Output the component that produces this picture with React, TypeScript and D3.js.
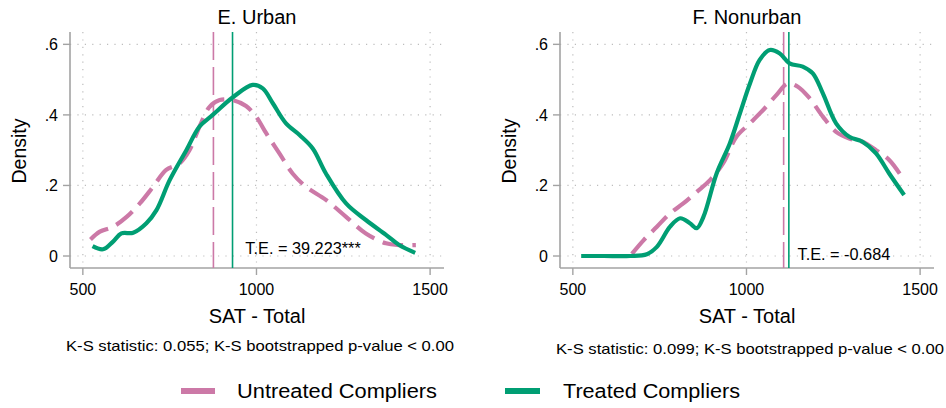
import React from "react";
import * as d3 from "d3";

// DATA
const xTicks = [500, 1000, 1500];
const yTicks = [0, 0.2, 0.4, 0.6];
const yTickLabels = ["0", ".2", ".4", ".6"];

// E. Urban
const urbanTreatedX = [528, 558, 587, 611, 645, 683, 712, 750, 798, 836, 874, 932, 989, 1018, 1047, 1085, 1124, 1162, 1200, 1258, 1315, 1373, 1411, 1457];
const urbanTreatedY = [0.028, 0.019, 0.041, 0.064, 0.066, 0.093, 0.13, 0.215, 0.3, 0.367, 0.4, 0.45, 0.485, 0.475, 0.433, 0.376, 0.343, 0.305, 0.234, 0.149, 0.102, 0.06, 0.031, 0.009];
const urbanUntreatedX = [522, 549, 587, 626, 664, 702, 740, 779, 807, 836, 865, 894, 932, 970, 999, 1028, 1066, 1104, 1143, 1200, 1258, 1315, 1373, 1411, 1459];
const urbanUntreatedY = [0.047, 0.069, 0.083, 0.111, 0.149, 0.196, 0.244, 0.263, 0.3, 0.367, 0.423, 0.442, 0.442, 0.425, 0.395, 0.348, 0.291, 0.234, 0.196, 0.159, 0.111, 0.064, 0.036, 0.031, 0.031];

// F. Nonurban
const ruralTreatedX = [524, 589, 665, 713, 742, 780, 809, 837, 857, 876, 914, 952, 981, 1010, 1038, 1067, 1095, 1124, 1162, 1191, 1220, 1258, 1296, 1334, 1373, 1411, 1454];
const ruralTreatedY = [0, 0, 0, 0.005, 0.026, 0.083, 0.107, 0.093, 0.079, 0.111, 0.234, 0.319, 0.404, 0.489, 0.556, 0.584, 0.575, 0.546, 0.537, 0.518, 0.461, 0.376, 0.338, 0.324, 0.291, 0.234, 0.173];
const ruralUntreatedX = [670, 704, 742, 780, 818, 857, 895, 933, 971, 1010, 1048, 1086, 1119, 1148, 1182, 1220, 1258, 1296, 1334, 1373, 1411, 1454];
const ruralUntreatedY = [0.006, 0.045, 0.083, 0.121, 0.149, 0.182, 0.215, 0.263, 0.338, 0.376, 0.414, 0.456, 0.489, 0.48, 0.447, 0.395, 0.352, 0.333, 0.324, 0.3, 0.272, 0.215];

const panelTitles = ["E. Urban", "F. Nonurban"];
const meanUntreated = [876, 1107];
const meanTreated = [931, 1122];
const effectLabels = ["T.E. = 39.223***", "T.E. = -0.684"];
const ksLabels = [
  "K-S statistic: 0.055; K-S bootstrapped p-value < 0.00",
  "K-S statistic: 0.099; K-S bootstrapped p-value < 0.00",
];
const seriesNames = ["Untreated Compliers", "Treated Compliers"];

const PINK = "#cc79a7";
const GREEN = "#009e73";
const AXIS = "#a3a3a3";
const FONT = "'Liberation Sans', Arial, Helvetica, sans-serif";

const zip = (xs: number[], ys: number[]) => xs.map((x, i) => [x, ys[i]] as [number, number]);

const panels = [
  { left: 70, treated: zip(urbanTreatedX, urbanTreatedY), untreated: zip(urbanUntreatedX, urbanUntreatedY), teX: 968, teY: 0.005, ksY: 351 },
  { left: 560, treated: zip(ruralTreatedX, ruralTreatedY), untreated: zip(ruralUntreatedX, ruralUntreatedY), teX: 1147, teY: -0.012, ksY: 354 },
];

const plotW = 374;
const top = 32;
const bottom = 268;

function Panel({ idx }: { idx: number }) {
  const p = panels[idx];
  const x = d3.scaleLinear().domain([463, 1540]).range([p.left, p.left + plotW]);
  const y = d3.scaleLinear().domain([-0.034, 0.635]).range([bottom, top]);
  const line = d3
    .line<[number, number]>()
    .x((d) => x(d[0]))
    .y((d) => y(d[1]))
    .curve(d3.curveCatmullRom.alpha(0.5));
  const cx = p.left + plotW / 2;

  return (
    <g>
      {/* GRID */}
      {yTicks.map((t) => (
        <line key={"gy" + t} x1={p.left} x2={p.left + plotW} y1={y(t)} y2={y(t)} stroke="#bdbdbd" strokeWidth={1.2} strokeDasharray="1.2 6.2" />
      ))}
      {xTicks.map((t) => (
        <line key={"gx" + t} x1={x(t)} x2={x(t)} y1={top} y2={bottom} stroke="#bdbdbd" strokeWidth={1.2} strokeDasharray="1.2 6.2" />
      ))}

      {/* AXES */}
      <line x1={p.left} x2={p.left} y1={top} y2={bottom} stroke={AXIS} strokeWidth={1.6} />
      <line x1={p.left} x2={p.left + plotW} y1={bottom} y2={bottom} stroke={AXIS} strokeWidth={1.6} />
      {yTicks.map((t, i) => (
        <g key={"ty" + t}>
          <line x1={p.left - 7} x2={p.left} y1={y(t)} y2={y(t)} stroke={AXIS} strokeWidth={1.4} />
          <text x={p.left - 12} y={y(t)} dy="0.36em" textAnchor="end" fontSize={16} fontFamily={FONT}>
            {yTickLabels[i]}
          </text>
        </g>
      ))}
      {xTicks.map((t) => (
        <g key={"tx" + t}>
          <line x1={x(t)} x2={x(t)} y1={bottom} y2={bottom + 7} stroke={AXIS} strokeWidth={1.4} />
          <text x={x(t)} y={295} textAnchor="middle" fontSize={16} fontFamily={FONT}>
            {t}
          </text>
        </g>
      ))}

      {/* MEAN LINES */}
      <line x1={x(meanUntreated[idx])} x2={x(meanUntreated[idx])} y1={top} y2={bottom} stroke={PINK} strokeWidth={1.6} strokeDasharray="28 7" />
      <line x1={x(meanTreated[idx])} x2={x(meanTreated[idx])} y1={top} y2={bottom} stroke={GREEN} strokeWidth={1.6} />

      {/* DENSITIES */}
      <path d={line(p.untreated) || ""} fill="none" stroke={PINK} strokeWidth={4.2} strokeDasharray="21 9" />
      <path d={line(p.treated) || ""} fill="none" stroke={GREEN} strokeWidth={4.2} strokeLinecap="butt" />

      {/* LABELS */}
      <text x={x(p.teX)} y={y(p.teY)} fontSize={16.3} fontFamily={FONT}>
        {effectLabels[idx]}
      </text>
      <text x={cx} y={24} textAnchor="middle" fontSize={20} fontFamily={FONT}>
        {panelTitles[idx]}
      </text>
      <text x={cx} y={323} textAnchor="middle" fontSize={20} fontFamily={FONT}>
        SAT - Total
      </text>
      <text transform={`translate(${p.left - 44},151) rotate(-90)`} textAnchor="middle" fontSize={19.5} fontFamily={FONT}>
        Density
      </text>
      <text x={cx + 3} y={p.ksY} textAnchor="middle" fontSize={14.5} fontFamily={FONT} textLength={388} lengthAdjust="spacingAndGlyphs">
        {ksLabels[idx]}
      </text>
    </g>
  );
}

export default function App() {
  return (
    <svg width={946} height={408} style={{ position: "absolute", left: 0, top: 0, background: "#fff" }}>
      <rect width={946} height={408} fill="#fff" />
      <Panel idx={0} />
      <Panel idx={1} />

      {/* LEGEND */}
      <line x1={181} x2={215} y1={391} y2={391} stroke={PINK} strokeWidth={6} />
      <text x={237} y={398} fontSize={20} fontFamily={FONT} textLength={200} lengthAdjust="spacingAndGlyphs">
        {seriesNames[0]}
      </text>
      <line x1={505} x2={540} y1={391} y2={391} stroke={GREEN} strokeWidth={6} />
      <text x={563} y={398} fontSize={20} fontFamily={FONT} textLength={177} lengthAdjust="spacingAndGlyphs">
        {seriesNames[1]}
      </text>
    </svg>
  );
}
